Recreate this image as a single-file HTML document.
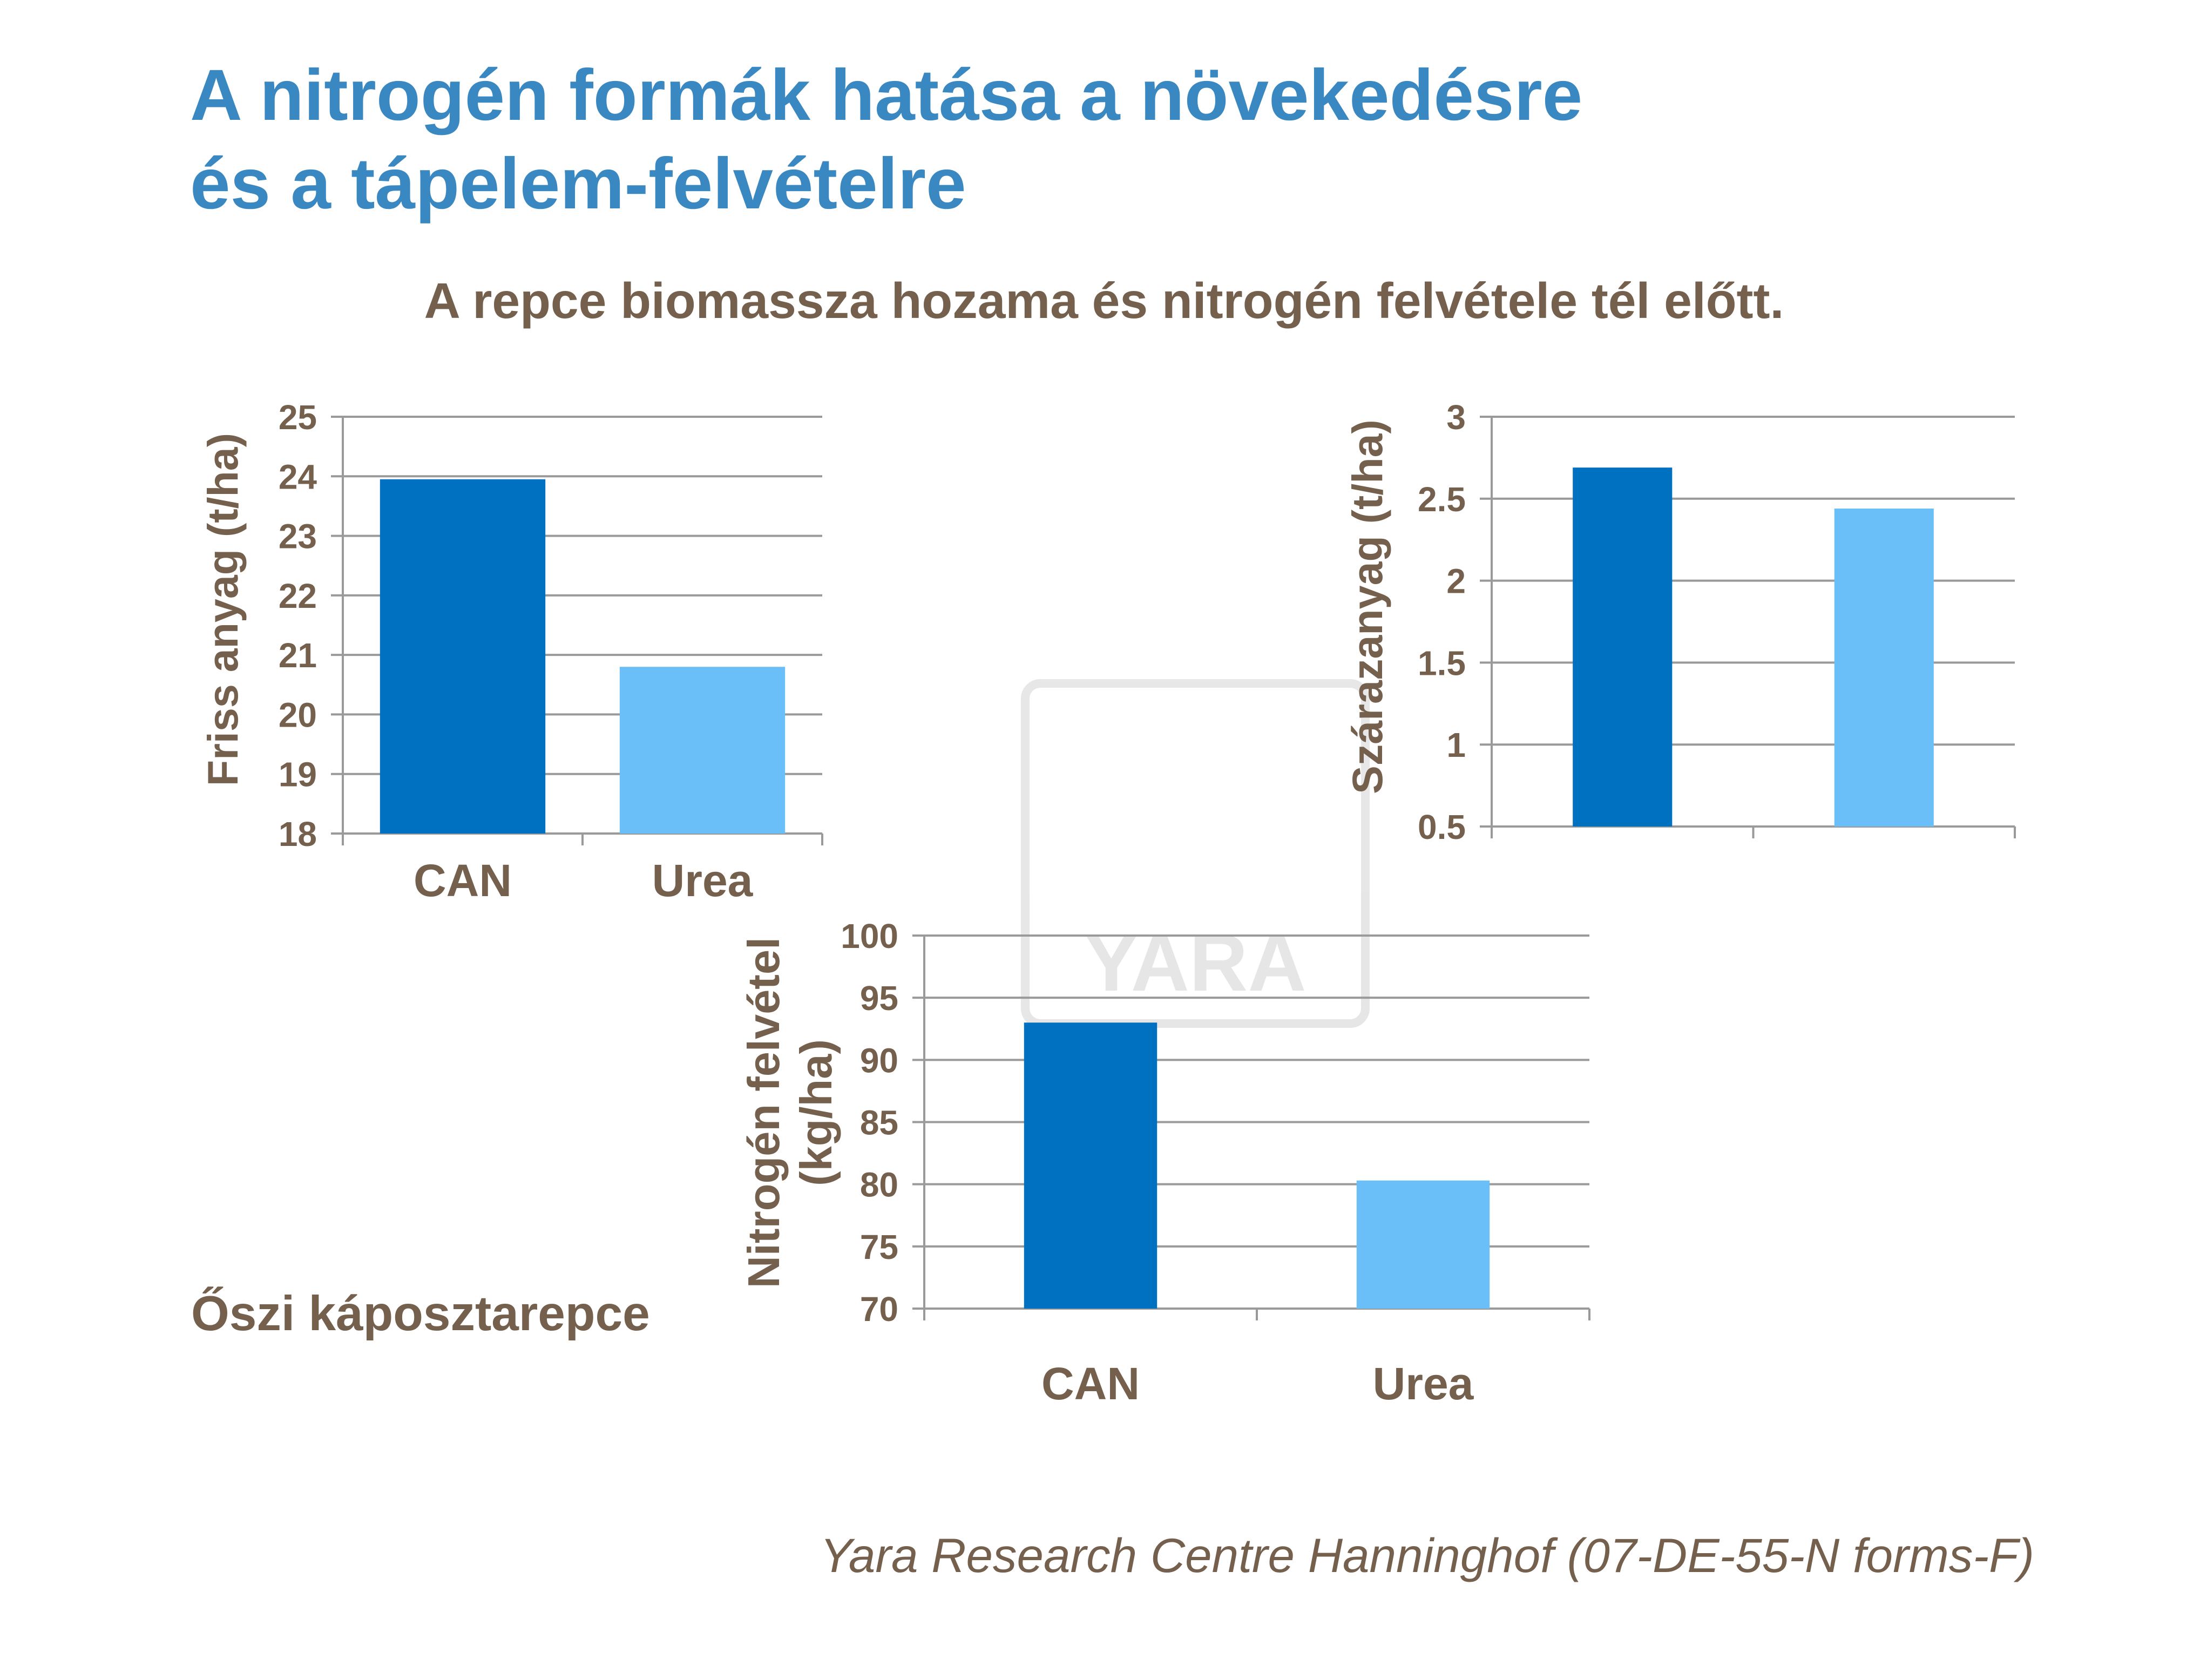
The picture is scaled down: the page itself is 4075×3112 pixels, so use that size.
<!DOCTYPE html>
<html><head><meta charset="utf-8"><style>
html,body{margin:0;padding:0;background:#fff;}
body{width:4075px;height:3107px;position:relative;overflow:hidden;font-family:"Liberation Sans",sans-serif;}
</style></head><body>
<svg width="4075" height="3107" viewBox="0 0 4075 3107" xmlns="http://www.w3.org/2000/svg" id="svg">
<g opacity="0.5">
<rect x="1899" y="1266" width="630" height="630" rx="28" fill="none" stroke="#cfcfcf" stroke-width="16"/>
<text x="2214" y="1835" text-anchor="middle" font-size="150" font-weight="bold" fill="#cfcfcf" font-family="Liberation Sans, sans-serif">YARA</text>
</g>
<text x="352" y="222" font-size="134" font-weight="bold" fill="#3a88c2">A nitrogén formák hatása a növekedésre</text>
<text x="352" y="386" font-size="134" font-weight="bold" fill="#3a88c2">és a tápelem-felvételre</text>
<text x="2045" y="589" text-anchor="middle" font-size="93" font-weight="bold" fill="#74604c">A repce biomassza hozama és nitrogén felvétele tél előtt.</text>
<text x="354" y="2464" font-size="91" font-weight="bold" fill="#74604c">Őszi káposztarepce</text>
<text x="3768" y="2912" text-anchor="end" font-size="89" font-style="italic" fill="#74604c">Yara Research Centre Hanninghof (07-DE-55-N forms-F)</text>
<g id="charts"></g>
</svg>
<script>
const categories = ["CAN","Urea"];
const freshValues = [23.95, 20.8];
const freshTicks = [18,19,20,21,22,23,24,25];
const dryValues = [2.69, 2.44];
const dryTicks = [0.5,1,1.5,2,2.5,3];
const nitroValues = [93, 80.3];
const nitroTicks = [70,75,80,85,90,95,100];
const colors = ["#0070c0","#6abff9"];
const NS="http://www.w3.org/2000/svg";
const root=document.getElementById('charts');
function mk(tag,attrs,parent){const e=document.createElementNS(NS,tag);for(const k in attrs)e.setAttribute(k,attrs[k]);parent.appendChild(e);return e;}
function chart(cfg){
  const g=mk('g',{},root);
  
  
  const min=cfg.ticks[0],max=cfg.ticks[cfg.ticks.length-1];
  const y=v=>cfg.bottom-(v-min)/(max-min)*(cfg.bottom-cfg.top);
  const bw=(cfg.right-cfg.left)/cfg.cats.length;
  cfg.ticks.forEach(t=>{
    const l=mk('line',{x1:cfg.left-22,x2:cfg.right,y1:y(t),y2:y(t),stroke:'#9a9a9a','stroke-width':4},g);
    
    
    const tx=mk('text',{x:cfg.left-48,y:y(t)+23,'text-anchor':'end','font-size':64,'font-weight':'bold',fill:'#74604c'},g);
    tx.textContent=String(t);
    
    
  });
  const ax=mk('line',{x1:cfg.left,x2:cfg.left,y1:cfg.top,y2:cfg.bottom+22,stroke:'#9a9a9a','stroke-width':4},g);
  
  
  for(let i=1;i<=cfg.cats.length;i++){
    const tk=mk('line',{x1:cfg.left+bw*i,x2:cfg.left+bw*i,y1:cfg.bottom,y2:cfg.bottom+22,stroke:'#9a9a9a','stroke-width':4},g);
    
    
  }
  cfg.vals.forEach((v,i)=>{
    const x=cfg.left+bw*i+bw*cfg.pad;
    const r=mk('rect',{x:x,y:y(v),width:bw*(1-2*cfg.pad),height:cfg.bottom-y(v),fill:colors[i]},g);
    
    
    if(cfg.catY){
      const t=mk('text',{x:cfg.left+bw*(i+0.5),y:cfg.catY,'text-anchor':'middle','font-size':84,'font-weight':'bold',fill:'#74604c'},g);
      t.textContent=cfg.cats[i];
      
      
    }
  });
  cfg.title.forEach((line,i)=>{
    const tx=cfg.tx+i*cfg.tgap;
    const t=mk('text',{x:tx,y:cfg.ty,'text-anchor':'middle','font-size':cfg.tsize,'font-weight':'bold',fill:'#74604c',transform:`rotate(-90 ${tx} ${cfg.ty})`},g);
    t.textContent=line;
    
    
  });
}
chart({name:'fresh-matter-chart',cats:categories,vals:freshValues,ticks:freshTicks,left:635,right:1523,top:772,bottom:1544,pad:0.155,catY:1660,title:['Friss anyag (t/ha)'],tx:440,ty:1129,tgap:0,tsize:79});
chart({name:'dry-matter-chart',cats:categories,vals:dryValues,ticks:dryTicks,left:2763,right:3732,top:772,bottom:1531,pad:0.31,catY:null,title:['Szárazanyag (t/ha)'],tx:2560,ty:1124,tgap:0,tsize:79});
chart({name:'nitrogen-uptake-chart',cats:categories,vals:nitroValues,ticks:nitroTicks,left:1712,right:2944,top:1733,bottom:2424,pad:0.3,catY:2592,title:['Nitrogén felvétel','(kg/ha)'],tx:1443,ty:2061,tgap:97,tsize:83});
</script>
</body></html>
